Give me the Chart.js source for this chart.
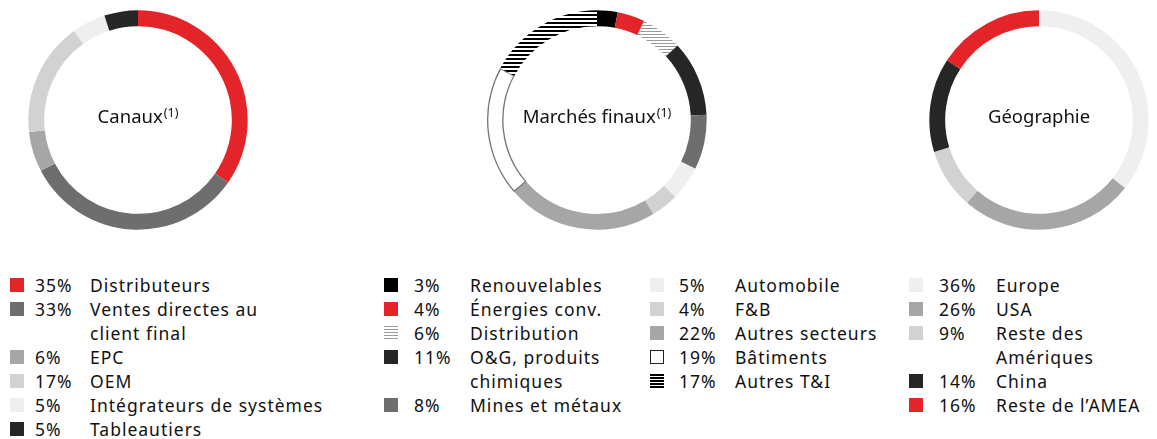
<!DOCTYPE html>
<html>
<head>
<meta charset="utf-8">
<script src="https://cdn.jsdelivr.net/npm/chart.js@4.4.1/dist/chart.umd.min.js"></script>
<style>
  body { margin: 0; width: 1157px; height: 439px; background: #fff; position: relative; overflow: hidden;
         font-family: "Noto Sans", sans-serif; color: #111; }
  canvas.donut { position: absolute; top: 10px; }
  .legend { position: absolute; top: 273px; font-size: 17.5px; line-height: 24px; letter-spacing: 1px; }
  .row { position: relative; }
  .row .box { position: absolute; top: 5px; width: 14px; height: 14px; box-sizing: border-box; }
  .row .pct { position: absolute; top: 0; white-space: nowrap; }
  .row .lbl { white-space: nowrap; }
</style>
</head>
<body>
<canvas id="c1" class="donut" width="220" height="220" style="left:28px"></canvas>
<canvas id="c2" class="donut" width="220" height="220" style="left:487px"></canvas>
<canvas id="c3" class="donut" width="220" height="220" style="left:929px"></canvas>
<div id="legends"></div>

<script>
// ---- data ----
const canauxLabels = ['Distributeurs', ['Ventes directes au', 'client final'], 'EPC', 'OEM',
                      'Intégrateurs de systèmes', 'Tableautiers'];
const canauxValues = [35, 33, 6, 17, 5, 5];

const marchesLabels = ['Renouvelables', 'Énergies conv.', 'Distribution', ['O&G, produits', 'chimiques'],
                       'Mines et métaux', 'Automobile', 'F&B', 'Autres secteurs', 'Bâtiments', 'Autres T&I'];
const marchesValues = [3, 4, 6, 11, 8, 5, 4, 22, 19, 17];

const geoLabels = ['Europe', 'USA', ['Reste des', 'Amériques'], 'China', 'Reste de l’AMEA'];
const geoValues = [36, 26, 9, 14, 16];

// ---- styles ----
const RED = '#e3252a';

function stripes(w, h, lineH, color) {
  const c = document.createElement('canvas');
  c.width = w; c.height = h;
  const x = c.getContext('2d');
  x.fillStyle = '#fff';
  x.fillRect(0, 0, w, h);
  x.fillStyle = color;
  x.fillRect(0, 0, w, lineH);
  return x.createPattern(c, 'repeat');
}
const grayStripes = stripes(4, 3, 1, '#9a9a9a');
const blackStripes = stripes(4, 4, 2, '#000');

const canauxColors = [RED, '#6e6e6e', '#a6a6a6', '#d2d2d2', '#efefef', '#262626'];
const marchesColors = ['#000', RED, grayStripes, '#262626', '#6e6e6e', '#efefef', '#d2d2d2', '#a6a6a6', '#fff', blackStripes];
const geoColors = ['#efefef', '#a6a6a6', '#d2d2d2', '#262626', RED];

// legend swatch css
const canauxSwatch = canauxColors.map(c => 'background:' + c);
const marchesSwatch = [
  'background:#000', 'background:' + RED,
  'background:repeating-linear-gradient(#9a9a9a 0 1px, #fff 1px 3px)',
  'background:#262626', 'background:#6e6e6e', 'background:#efefef', 'background:#d2d2d2',
  'background:#a6a6a6', 'background:#fff;border:1px solid #222',
  'background:repeating-linear-gradient(#000 0 2px, #fff 2px 3px)'
];
const geoSwatch = geoColors.map(c => 'background:' + c);

// center text
const centerText = {
  id: 'centerText',
  afterDraw(chart, args, opts) {
    const ctx = chart.ctx;
    const arc = chart.getDatasetMeta(0).data[0];
    const cx = arc.x, cy = arc.y;
    ctx.save();
    ctx.fillStyle = '#111';
    ctx.textBaseline = 'alphabetic';
    ctx.font = '18.5px "Noto Sans"';
    const w1 = ctx.measureText(opts.text).width;
    let w2 = 0;
    if (opts.sup) {
      ctx.font = '12.5px "Noto Sans"';
      w2 = ctx.measureText(opts.sup).width + 1;
    }
    const x0 = cx - (w1 + w2) / 2;
    ctx.font = '18.5px "Noto Sans"';
    ctx.textAlign = 'left';
    ctx.fillText(opts.text, x0, cy + 3);
    if (opts.sup) {
      ctx.font = '12.5px "Noto Sans"';
      ctx.fillText(opts.sup, x0 + w1 + 1, cy - 3);
    }
    ctx.restore();
  }
};

function makeDonut(id, labels, values, colors, text, sup, borders) {
  return new Chart(document.getElementById(id), {
    type: 'doughnut',
    data: {
      labels: labels,
      datasets: [{
        data: values,
        backgroundColor: colors,
        borderWidth: borders || 0,
        borderColor: '#777',
        borderAlign: 'inner',
        hoverOffset: 0
      }]
    },
    options: {
      responsive: false,
      animation: false,
      cutout: '85%',
      layout: { padding: 0 },
      events: [],
      plugins: {
        legend: { display: false },
        tooltip: { enabled: false },
        centerText: { text: text, sup: sup }
      }
    },
    plugins: [centerText]
  });
}

makeDonut('c1', canauxLabels, canauxValues, canauxColors, 'Canaux', '(1)');
makeDonut('c2', marchesLabels, marchesValues, marchesColors, 'Marchés finaux', '(1)',
          [0, 0, 0, 0, 0, 0, 0, 0, 1, 0]);
makeDonut('c3', geoLabels, geoValues, geoColors, 'Géographie', '');

// ---- legends ----
function legend(left, pctX, lblX, labels, values, swatches) {
  const div = document.createElement('div');
  div.className = 'legend';
  div.style.left = left + 'px';
  labels.forEach((l, i) => {
    const lines = Array.isArray(l) ? l : [l];
    div.innerHTML += `
      <div class="row" style="padding-left:${lblX - left}px">
        <span class="box" style="left:0;${swatches[i]}"></span>
        <span class="pct" style="left:${pctX - left}px">${values[i]}%</span>
        <div class="lbl">${lines.join('<br>')}</div>
      </div>`;
  });
  document.getElementById('legends').appendChild(div);
}

legend(10, 35, 90, canauxLabels, canauxValues, canauxSwatch);
legend(384, 414, 470, marchesLabels.slice(0, 5), marchesValues.slice(0, 5), marchesSwatch.slice(0, 5));
legend(650, 679, 735, marchesLabels.slice(5), marchesValues.slice(5), marchesSwatch.slice(5));
legend(909, 939, 996, geoLabels, geoValues, geoSwatch);
</script>
</body>
</html>
